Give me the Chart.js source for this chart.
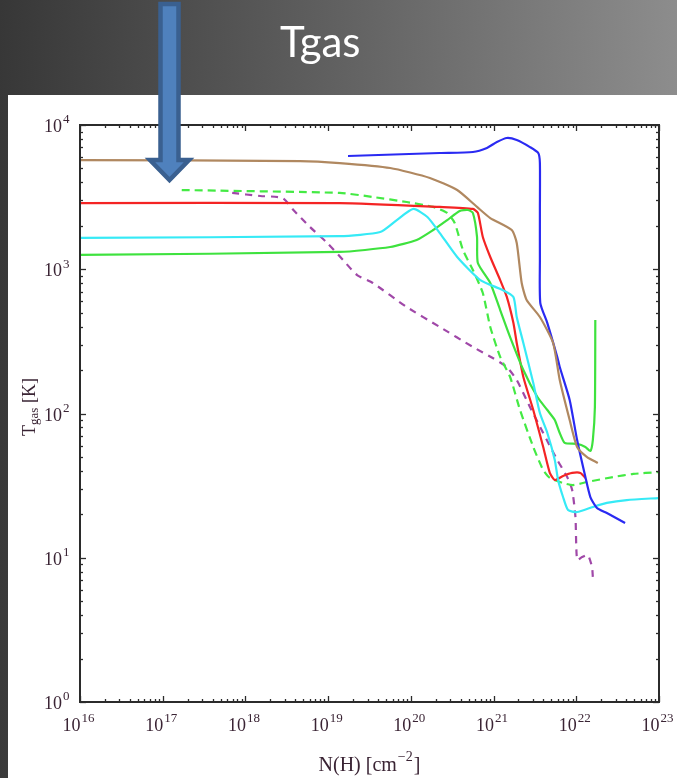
<!DOCTYPE html>
<html>
<head>
<meta charset="utf-8">
<script src="https://cdn.jsdelivr.net/npm/chart.js@4.4.1/dist/chart.umd.min.js"></script>
<style>
  body { margin: 0; width: 677px; height: 778px; overflow: hidden; position: relative;
         background: linear-gradient(92deg, #373737 0%, #5e5e5e 45%, #909090 100%); }
  #panel { position: absolute; left: 8px; top: 95px; width: 669px; height: 683px; background: #fff; }
  #overlay { position: absolute; left: 0; top: 0; pointer-events: none; }
</style>
</head>
<body>
<div id="panel"><canvas id="tgasChart" width="669" height="683"></canvas></div>
<svg id="overlay" width="677" height="778">
  <text x="280" y="57" font-family="Lato, 'Open Sans', sans-serif" font-size="42" fill="#ffffff">Tgas</text>
  <path d="M160.5,4 H178.5 V160 H189 L169.5,180 L150,160 H160.5 Z"
        fill="#4f81bd" stroke="#3a6090" stroke-width="4.5" stroke-linejoin="miter"/>
</svg>

<script>
// column density N(H) and gas temperature, both stored as log10
const xTickExps = [16, 17, 18, 19, 20, 21, 22, 23];
const yTickExps = [0, 1, 2, 3, 4];

const brownLogN = [16, 18.66, 19.14, 19.75, 20.23, 20.56, 20.80, 20.96, 21.22, 21.28, 21.34, 21.40, 21.56, 21.72, 21.80, 21.92, 22.01, 22.13, 22.26];
const brownLogT = [3.757, 3.750, 3.736, 3.702, 3.633, 3.549, 3.432, 3.355, 3.272, 3.182, 2.905, 2.787, 2.669, 2.489, 2.232, 1.955, 1.768, 1.698, 1.657];

const blueLogN = [19.24, 20.35, 20.75, 20.92, 21.04, 21.16, 21.28, 21.44, 21.54, 21.56, 21.56, 21.56, 21.565, 21.65, 21.77, 21.80, 21.92, 22.01, 22.11, 22.17, 22.25, 22.37, 22.59];
const blueLogT = [3.785, 3.806, 3.813, 3.841, 3.882, 3.910, 3.896, 3.847, 3.806, 3.737, 3.411, 3.064, 2.766, 2.627, 2.392, 2.322, 2.094, 1.816, 1.560, 1.421, 1.345, 1.310, 1.241];

const redLogN = [16, 19.14, 20.35, 20.75, 20.81, 20.87, 20.96, 21.08, 21.16, 21.24, 21.28, 21.36, 21.48, 21.60, 21.68, 21.74, 21.84, 21.95, 22.05, 22.11];
const redLogT = [3.459, 3.459, 3.432, 3.418, 3.390, 3.224, 3.085, 2.925, 2.808, 2.627, 2.489, 2.253, 2.024, 1.768, 1.588, 1.539, 1.567, 1.588, 1.588, 1.553];

const cyanLogN = [16, 19.14, 19.63, 19.83, 20.03, 20.20, 20.35, 20.56, 20.84, 21.11, 21.24, 21.28, 21.36, 21.48, 21.56, 21.65, 21.74, 21.78, 21.84, 21.90, 22.01, 22.20, 22.37, 22.61, 22.99];
const cyanLogT = [3.217, 3.230, 3.258, 3.341, 3.418, 3.362, 3.251, 3.085, 2.925, 2.856, 2.808, 2.669, 2.489, 2.211, 2.003, 1.865, 1.678, 1.539, 1.421, 1.331, 1.317, 1.352, 1.380, 1.400, 1.414];

const greenLogN = [16, 19.14, 19.75, 20.07, 20.27, 20.44, 20.59, 20.69, 20.75, 20.80, 20.81, 20.96, 21.08, 21.20, 21.36, 21.53, 21.65, 21.74, 21.80, 21.86, 22.01, 22.11, 22.17, 22.20, 22.225, 22.23];
const greenLogT = [3.099, 3.120, 3.154, 3.203, 3.272, 3.341, 3.404, 3.411, 3.390, 3.224, 3.043, 2.905, 2.717, 2.530, 2.302, 2.114, 2.024, 1.955, 1.865, 1.796, 1.789, 1.768, 1.740, 1.816, 2.045, 2.648];

const greenDashLogN = [17.23, 19.14, 19.54, 19.95, 20.27, 20.44, 20.53, 20.63, 20.75, 20.87, 20.96, 21.08, 21.20, 21.32, 21.48, 21.60, 21.68, 21.84, 21.96, 22.13, 22.45, 22.69, 22.99];
const greenDashLogT = [3.549, 3.529, 3.501, 3.466, 3.432, 3.390, 3.321, 3.133, 2.995, 2.835, 2.600, 2.392, 2.253, 2.024, 1.768, 1.608, 1.553, 1.518, 1.504, 1.525, 1.560, 1.581, 1.594];

const purpleLogN = [17.84, 18.18, 18.45, 18.58, 18.78, 18.99, 19.18, 19.35, 19.54, 19.95, 20.35, 20.75, 20.99, 21.16, 21.28, 21.44, 21.60, 21.77, 21.89, 21.95, 21.99, 22.01, 22.07, 22.14, 22.19, 22.20];
const purpleLogT = [3.529, 3.508, 3.494, 3.411, 3.293, 3.182, 3.064, 2.960, 2.905, 2.738, 2.600, 2.461, 2.385, 2.322, 2.232, 2.045, 1.865, 1.678, 1.560, 1.470, 1.282, 0.984, 1.005, 1.019, 0.936, 0.867];

function toPoints(logN, logT) {
  return logN.map((n, i) => ({ x: Math.pow(10, n), y: Math.pow(10, logT[i]) }));
}

function series(logN, logT, color, dash) {
  return {
    data: toPoints(logN, logT),
    borderColor: color,
    borderWidth: 2.2,
    borderDash: dash || [],
    showLine: true,
    pointRadius: 0,
    tension: 0.2,
    fill: false
  };
}

const SERIF = "'Liberation Serif', 'DejaVu Serif', serif";
const INK = '#3a2434';

// draws "base" followed by a raised exponent, anchored by align
function drawPower(ctx, base, exp, x, y, align, size) {
  const supSize = Math.round(size * 0.72);
  ctx.font = size + 'px ' + SERIF;
  const wb = ctx.measureText(base).width;
  ctx.font = supSize + 'px ' + SERIF;
  const we = ctx.measureText(exp).width;
  let left = x;
  if (align === 'center') left = x - (wb + we) / 2;
  else if (align === 'right') left = x - wb;
  ctx.textAlign = 'left';
  ctx.font = size + 'px ' + SERIF;
  ctx.fillText(base, left, y);
  ctx.font = supSize + 'px ' + SERIF;
  ctx.fillText(exp, left + wb + 1, y - size * 0.48);
}

// boxed frame with inside ticks on all four sides, plus labels
const frameAxes = {
  id: 'frameAxes',
  afterDatasetsDraw(chart) {
    const { ctx, chartArea: a } = chart;
    const xs = chart.scales.x, ys = chart.scales.y;
    ctx.save();
    ctx.strokeStyle = '#2b2b2b';
    ctx.lineWidth = 1.3;

    const seg = (x1, y1, x2, y2) => { ctx.beginPath(); ctx.moveTo(x1, y1); ctx.lineTo(x2, y2); ctx.stroke(); };

    for (let e = xTickExps[0]; e <= xTickExps[xTickExps.length - 1]; e++) {
      for (let k = 1; k <= 9; k++) {
        const v = k * Math.pow(10, e);
        if (v > xs.max * 1.0001) break;
        const px = Math.round(xs.getPixelForValue(v)) + 0.5;
        const len = k === 1 ? 6 : 3;
        seg(px, a.bottom, px, a.bottom - len);
        seg(px, a.top, px, a.top + len);
      }
    }
    for (let e = yTickExps[0]; e <= yTickExps[yTickExps.length - 1]; e++) {
      for (let k = 1; k <= 9; k++) {
        const v = k * Math.pow(10, e);
        if (v > ys.max * 1.0001) break;
        const py = Math.round(ys.getPixelForValue(v)) + 0.5;
        const len = k === 1 ? 6 : 3;
        seg(a.left, py, a.left + len, py);
        seg(a.right, py, a.right - len, py);
      }
    }

    ctx.lineWidth = 2;
    ctx.strokeRect(a.left, a.top, a.right - a.left, a.bottom - a.top);

    ctx.fillStyle = INK;
    ctx.textBaseline = 'alphabetic';
    xTickExps.forEach(e => {
      drawPower(ctx, '10', String(e), xs.getPixelForValue(Math.pow(10, e)) - 2, a.bottom + 29, 'center', 18);
    });
    yTickExps.forEach(e => {
      drawPower(ctx, '10', String(e), a.left - 18, ys.getPixelForValue(Math.pow(10, e)) + 7, 'right', 18);
    });

    // x axis title: N(H) [cm^-2]
    const t1 = 'N(H) [cm', t3 = ']';
    ctx.font = '14px ' + SERIF;
    const w2 = ctx.measureText('\u22122').width;
    ctx.font = '20px ' + SERIF;
    const w1 = ctx.measureText(t1).width, w3 = ctx.measureText(t3).width;
    let lx = (a.left + a.right) / 2 - (w1 + w2 + w3 + 2) / 2;
    ctx.textAlign = 'left';
    ctx.fillText(t1, lx, a.bottom + 69);
    ctx.font = '14px ' + SERIF;
    ctx.fillText('\u22122', lx + w1 + 1, a.bottom + 59);
    ctx.font = '20px ' + SERIF;
    ctx.fillText(t3, lx + w1 + w2 + 2, a.bottom + 69);

    // y axis title: Tgas [K], rotated
    ctx.translate(21, 312);
    ctx.rotate(-Math.PI / 2);
    ctx.font = '18px ' + SERIF;
    const wT = ctx.measureText('T').width;
    ctx.font = '13px ' + SERIF;
    const wg = ctx.measureText('gas').width;
    ctx.font = '18px ' + SERIF;
    const wK = ctx.measureText(' [K]').width;
    let ty = -(wT + wg + wK) / 2;
    ctx.fillText('T', ty, 6);
    ctx.font = '13px ' + SERIF;
    ctx.fillText('gas', ty + wT, 9);
    ctx.font = '18px ' + SERIF;
    ctx.fillText(' [K]', ty + wT + wg, 6);
    ctx.restore();
  }
};

new Chart(document.getElementById('tgasChart'), {
  type: 'scatter',
  data: {
    datasets: [
      series(brownLogN, brownLogT, '#b08860'),
      series(blueLogN, blueLogT, '#2a2af2'),
      series(cyanLogN, cyanLogT, '#36eaf6'),
      series(greenLogN, greenLogT, '#3ee23e'),
      series(redLogN, redLogT, '#f42424'),
      series(greenDashLogN, greenDashLogT, '#44ea44', [8, 5]),
      series(purpleLogN, purpleLogT, '#a048a8', [7, 6])
    ]
  },
  options: {
    responsive: false,
    animation: false,
    devicePixelRatio: 1,
    layout: { padding: { left: 72, right: 18, top: 30, bottom: 76 } },
    scales: {
      x: { type: 'logarithmic', min: 1e16, max: 1e23, display: false },
      y: { type: 'logarithmic', min: 1, max: 1e4, display: false }
    },
    plugins: { legend: { display: false }, tooltip: { enabled: false } }
  },
  plugins: [frameAxes]
});
</script>
</body>
</html>
